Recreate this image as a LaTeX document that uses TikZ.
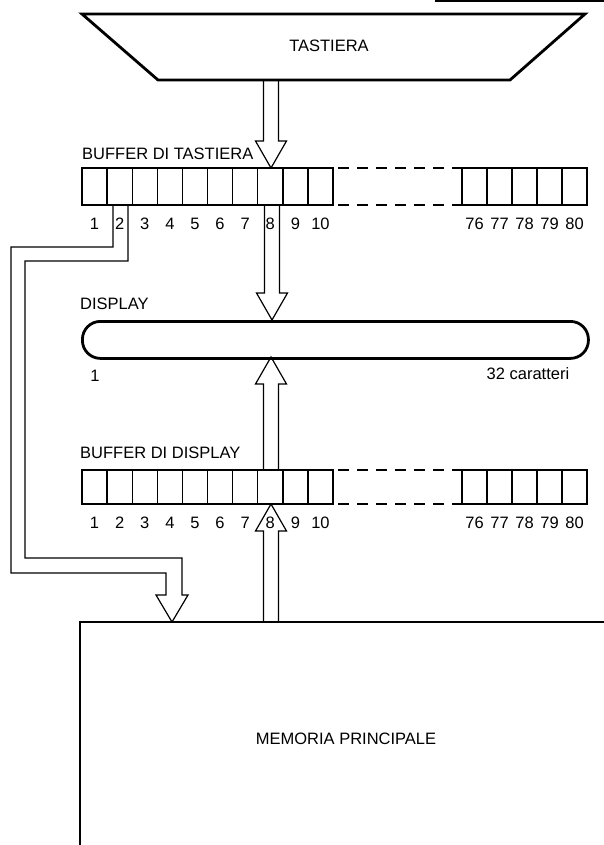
\documentclass[tikz,border=0pt]{standalone}
\usepackage{fontspec}
\setmainfont{Liberation Sans}
\usetikzlibrary{calc}
\tikzset{
  boxline/.style={line width=2.8pt, line join=miter},
  divider/.style={line width=1.4pt},
  hollow/.style={line width=1.2pt, line join=miter},
  dashline/.style={line width=2.8pt, dash pattern=on 11pt off 8pt},
  lbl/.style={inner sep=0pt, font=\fontsize{16.5}{16.5}\selectfont},
}
% hollow vertical block arrow from #1 (tail) to #2 (tip)
\newcommand\blockarrow[2]{%
  \draw[hollow] let \p1=(#1), \p2=(#2), \n1={(\y2>\y1)*2-1} in
    (\x1-7.5pt,\y1) -- (\x1-7.5pt,{\y2-\n1*27pt}) -- (\x1-15.5pt,{\y2-\n1*27pt})
    -- (\x1,\y2) -- (\x1+15.5pt,{\y2-\n1*27pt}) -- (\x1+7.5pt,{\y2-\n1*27pt})
    -- (\x1+7.5pt,\y1);}
% buffer row: #1 name prefix, #2 top y, #3 bottom y
\newcommand\bufrow[3]{%
  \draw[boxline] (82,#2) rectangle (333,#3);
  \foreach \i in {1,...,9} \draw[divider] ({82+\i*25.1},#2) -- ({82+\i*25.1},#3);
  \draw[boxline] (462,#2) rectangle (587,#3);
  \foreach \i in {1,...,4} \draw[divider] ({462+\i*25},#2) -- ({462+\i*25},#3);
  \draw[dashline] (338,#2) -- (461,#2);
  \draw[dashline] (338,#3) -- (461,#3);
  \foreach \i in {1,...,10} \node[lbl, anchor=base] (#1n\i) at ({82+(\i-0.5)*25.1},{#3+24}) {\i};
  \foreach \i/\t in {1/76,2/77,3/78,4/79,5/80} \node[lbl, anchor=base] (#1r\i) at ({462+(\i-0.5)*25},{#3+24}) {\t};
}
\begin{document}
\begin{tikzpicture}[x=1pt, y=-1pt]
\useasboundingbox (0,0) rectangle (604,845);
\fill[white] (0,0) rectangle (604,845);
% scan edge at top
\draw[line width=1.5pt] (435,1) -- (604,1);

% keyboard
\draw[boxline] (82,14) -- (585,14) -- (510,80) -- (158,80) -- cycle;
\node[lbl] (kb) at (329,46) {TASTIERA};
\coordinate (kbout) at (271,80);

% keyboard buffer
\node[lbl, anchor=base west] (kblbl) at (82,160) {BUFFER DI TASTIERA};
\bufrow{t}{168}{205}
\coordinate (tin) at (271,168);
\coordinate (tout) at (272,205);

% display
\node[lbl, anchor=base west] (displbl) at (80,309) {DISPLAY};
\node[draw, line width=2.8pt, rounded corners=18pt, minimum width=506pt, minimum height=37pt,
      anchor=north west, inner sep=0pt] (disp) at (81,320) {};
\node[lbl, anchor=base] (dfirst) at (95,381) {1};
\node[lbl, anchor=base] (dcount) at (528,379) {32 caratteri};
\coordinate (dtop) at (272,320);
\coordinate (dbot) at (271,357);

% display buffer
\node[lbl, anchor=base west] (dblbl) at (80,458) {BUFFER DI DISPLAY};
\bufrow{d}{470}{504}
\coordinate (dbtop) at (271,470);
\coordinate (dbbot) at (271,504);

% main memory
\draw[boxline] (604,622) -- (80,622) -- (80,846);
\node[lbl] (mem) at (346,739) {MEMORIA PRINCIPALE};
\coordinate (memtop) at (271,622);
\coordinate (memin) at (172,622);

% arrows
\blockarrow{kbout}{tin}
\blockarrow{tout}{dtop}
\blockarrow{dbtop}{dbot}
\blockarrow{memtop}{dbbot}

% bus from keyboard buffer cell 2 to memory
\coordinate (busL) at (113,205);
\coordinate (busR) at (128,205);
\draw[hollow] (busL) -- (113,247) -- (11,247) -- (11,573) -- (166,573) -- (166,595)
  -- (156,595) -- (memin) -- (188,595) -- (182,595) -- (182,558) -- (25,558)
  -- (25,261) -- (128,261) -- (busR);
\end{tikzpicture}
\end{document}
